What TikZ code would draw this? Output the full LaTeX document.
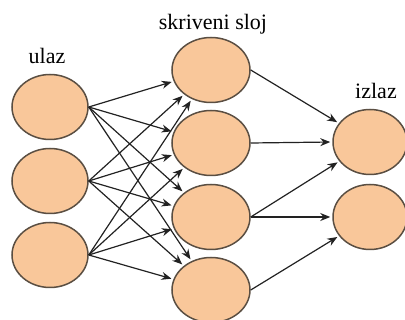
\documentclass[tikz,border=0pt]{standalone}
\usepackage{fontspec}
\setmainfont{Liberation Serif}
\usetikzlibrary{arrows.meta,shapes.geometric}
\definecolor{nodefill}{HTML}{F9C79A}
\definecolor{nodeline}{HTML}{5A4E42}
\definecolor{arr}{HTML}{222222}
\tikzset{
  neuron/.style={ellipse, draw=nodeline, fill=nodefill, line width=1.5pt, minimum width=76pt, minimum height=65pt, inner sep=0pt},
  conn/.style={draw=arr, line width=1.2pt, shorten >=2pt, -{Stealth[length=10pt,width=8pt]}},
  lbl/.style={font=\fontsize{22}{24}\selectfont, text=black}
}
\begin{document}
\begin{tikzpicture}[x=1pt,y=-1pt]
\useasboundingbox (0,0) rectangle (405,320);
\node[neuron] (i1) at (50,107) {};
\node[neuron] (i2) at (50,181) {};
\node[neuron] (i3) at (50,255) {};
\node[neuron, minimum width=78pt] (h1) at (211,70) {};
\node[neuron, minimum width=78pt] (h2) at (211,143) {};
\node[neuron, minimum width=78pt] (h3) at (211,217) {};
\node[neuron, minimum width=78pt] (h4) at (211,290) {};
\node[neuron, minimum width=74pt] (o1) at (370,142) {};
\node[neuron, minimum width=74pt] (o2) at (370,217) {};
\node[lbl] (tin) at (47,56) {ulaz};
\node[lbl] (thid) at (213,24) {skriveni sloj};
\node[lbl] (tout) at (376,91) {izlaz};
\foreach \i in {i1,i2,i3}{
  \foreach \h in {h1,h2,h3,h4}{
    \draw[conn] (\i.east) -- (\h);
  }
}
\draw[conn] (h1.east) -- (o1);
\draw[conn] (h2.east) -- (o1.west);
\draw[conn] (h3.east) -- (o1);
\draw[conn] (h3.east) -- (o2.west);
\draw[conn] (h4.east) -- (o2);
\end{tikzpicture}
\end{document}
